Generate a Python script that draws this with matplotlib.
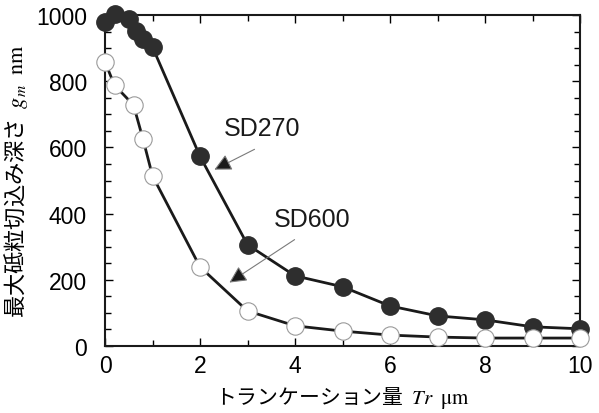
import matplotlib
matplotlib.use("Agg")
import matplotlib.pyplot as plt
from matplotlib.ticker import MultipleLocator

plt.rcParams['font.family'] = ['Liberation Sans', 'Noto Sans CJK JP', 'DejaVu Sans']
plt.rcParams['mathtext.fontset'] = 'stix'

# SD270 (filled)
x_sd270 = [0, 0.2, 0.5, 0.65, 0.8, 1.0, 2, 3, 4, 5, 6, 7, 8, 9, 10]
y_sd270 = [978, 1003, 988, 952, 927, 903, 573, 306, 212, 179, 121, 91, 79, 58, 52]
# SD600 (open)
x_sd600 = [0, 0.2, 0.6, 0.8, 1.0, 2, 3, 4, 5, 6, 7, 8, 9, 10]
y_sd600 = [858, 788, 728, 625, 514, 239, 106, 61, 45, 33, 27, 24, 24, 24]

labels = ["SD270", "SD600"]
xticks = [0, 2, 4, 6, 8, 10]
yticks = [0, 200, 400, 600, 800, 1000]

fig = plt.figure(figsize=(5.99, 4.14), dpi=100)
ax = fig.add_axes([105/599, 1-347/414, (580-105)/599, (347-16)/414])

ax.plot(x_sd270, y_sd270, color='#1a1a1a', lw=2.0, marker='o', ms=12.5,
        mfc='#2e2e2e', mec='#2e2e2e', clip_on=False, zorder=3)
ax.plot(x_sd600, y_sd600, color='#1a1a1a', lw=2.0, marker='o', ms=12.5,
        mfc='white', mec='#9a9a9a', mew=0.8, clip_on=False, zorder=4)

ax.set_xlim(0, 10)
ax.set_ylim(0, 1000)
ax.set_xticks(xticks)
ax.set_yticks(yticks)
ax.xaxis.set_minor_locator(MultipleLocator(1))
ax.yaxis.set_minor_locator(MultipleLocator(50))
ax.tick_params(which='both', direction='in', top=True, right=True, labelsize=16.5, width=1.0)
ax.tick_params(which='major', length=6)
ax.tick_params(which='minor', length=4)
ax.tick_params(axis='x', pad=6)
ax.tick_params(axis='y', pad=13)
for s in ax.spines.values():
    s.set_linewidth(1.5)
    s.set_color('#1a1a1a')

ax.set_xlabel('トランケーション量  $\\mathit{Tr}$  $\\mathrm{\\mu m}$', fontsize=15,
              family=['Noto Sans CJK JP', 'DejaVu Sans'], labelpad=5)
ax.set_ylabel('最大砥粒切込み深さ  $g_m$  $\\mathrm{nm}$', fontsize=16,
              family=['Noto Sans CJK JP', 'DejaVu Sans'], labelpad=4)

arrow = dict(arrowstyle='-|>', fc='#1a1a1a', ec='#7a7a7a', lw=0.8, mutation_scale=26)
ax.annotate('', xy=(2.25, 529), xytext=(3.2, 598), arrowprops=arrow)
ax.annotate('', xy=(2.57, 187), xytext=(4.04, 326), arrowprops=arrow)
ax.text(3.31, 659, labels[0], fontsize=18, ha='center', va='center', color='#1a1a1a')
ax.text(4.36, 384, labels[1], fontsize=18, ha='center', va='center', color='#1a1a1a')

fig.savefig('out.png', dpi=100)
